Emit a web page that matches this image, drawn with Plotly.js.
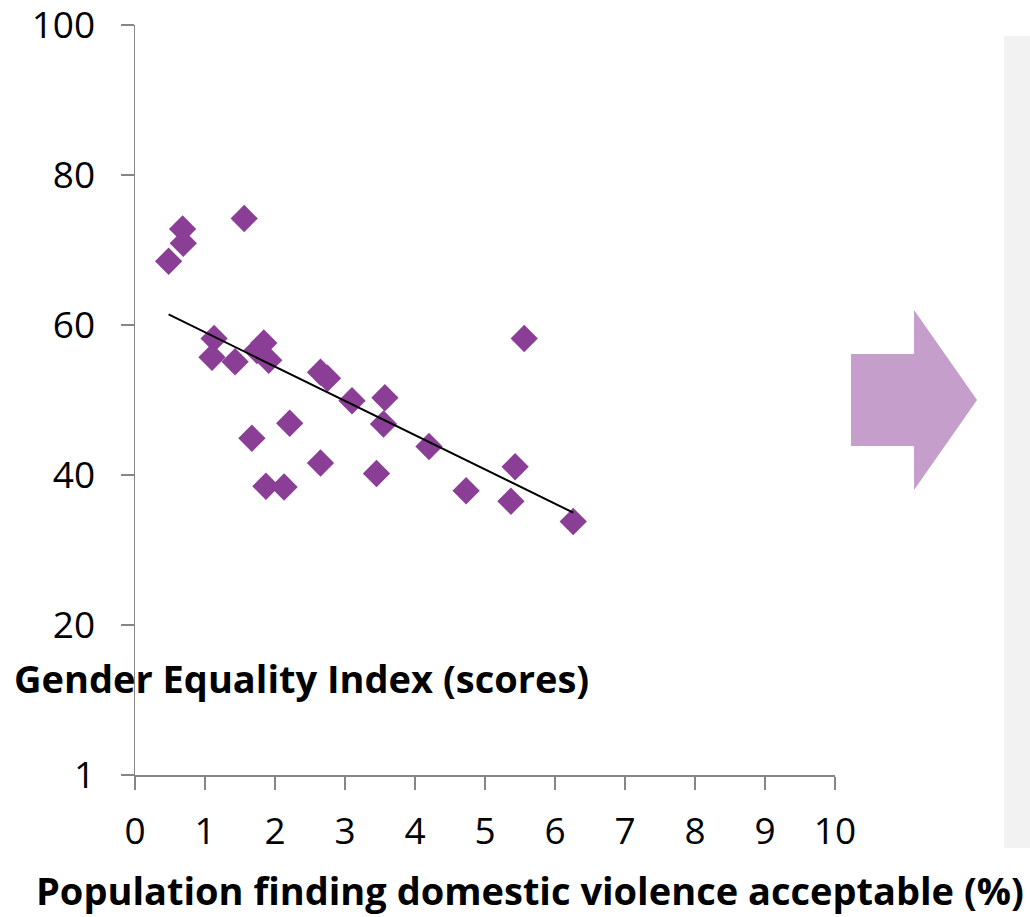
<!DOCTYPE html>
<html>
<head>
<meta charset="utf-8">
<script src="https://cdn.plot.ly/plotly-3.0.1.min.js"></script>
<style>html,body{margin:0;padding:0;background:#fff;}#chart{width:1030px;height:917px;}</style>
</head>
<body>
<div id="chart"></div>
<script>
// Population finding domestic violence acceptable (%)
var violencePct = [0.48, 0.68, 0.69, 1.56, 1.13, 1.10, 1.43, 1.84, 1.74, 1.91, 2.65, 2.75, 3.10, 3.57, 3.55, 4.20, 2.65, 3.45, 4.73, 5.43, 5.37, 6.26, 5.56, 1.67, 2.21, 1.87, 2.13];
// Gender Equality Index (scores)
var equalityScore = [68.5, 72.8, 70.9, 74.2, 58.2, 55.7, 55.1, 57.6, 56.6, 55.3, 53.7, 52.9, 49.9, 50.3, 46.8, 43.8, 41.6, 40.2, 37.9, 41.1, 36.5, 33.8, 58.2, 44.9, 46.9, 38.5, 38.4];
var xTickVals = [0,1,2,3,4,5,6,7,8,9,10];
var yTickVals = [0,20,40,60,80,100];
var yTickText = ['1','20','40','60','80','100'];

// linear (least squares) trend line across the data range
var n = violencePct.length, sx = 0, sy = 0, sxx = 0, sxy = 0;
for (var i = 0; i < n; i++) { sx += violencePct[i]; sy += equalityScore[i]; sxx += violencePct[i]*violencePct[i]; sxy += violencePct[i]*equalityScore[i]; }
var slope = (n*sxy - sx*sy) / (n*sxx - sx*sx);
var intercept = (sy - slope*sx) / n;
var xMin = Math.min.apply(null, violencePct), xMax = Math.max.apply(null, violencePct);
var trendX = [xMin, xMax];
var trendY = trendX.map(function(v){ return intercept + slope*v; });

var purple = '#8B3E96';
var axisGrey = '#868686';
var tickFont = {family: 'Open Sans, sans-serif', size: 37, color: '#000'};
var titleFont = {family: 'Open Sans, sans-serif', size: 38, color: '#000', weight: 'bold'};

var data = [
  {x: violencePct, y: equalityScore, type: 'scatter', mode: 'markers',
   marker: {symbol: 'diamond', size: 21, color: purple}, hoverinfo: 'x+y', cliponaxis: false},
  {x: trendX, y: trendY, type: 'scatter', mode: 'lines',
   line: {color: '#000', width: 2}, hoverinfo: 'skip'}
];

var layout = {
  width: 1030, height: 917,
  margin: {l: 135, r: 195, t: 25, b: 142},
  paper_bgcolor: '#fff', plot_bgcolor: '#fff',
  showlegend: false,
  xaxis: {range: [0, 10], tickvals: xTickVals, ticks: 'outside', ticklen: 13, tickwidth: 1.5,
          tickcolor: axisGrey, showline: true, linecolor: axisGrey, linewidth: 1.5,
          showgrid: false, zeroline: false, tickfont: tickFont, ticklabelstandoff: 10,
          ticklabeloverflow: 'allow', fixedrange: true},
  yaxis: {range: [0, 100], tickvals: yTickVals, ticktext: yTickText, ticks: 'outside', ticklen: 13, tickwidth: 1.5,
          tickcolor: axisGrey, showline: true, linecolor: axisGrey, linewidth: 1.5,
          showgrid: false, zeroline: false, tickfont: tickFont, ticklabelstandoff: 18,
          ticklabeloverflow: 'allow', fixedrange: true},
  shapes: [
    {type: 'rect', xref: 'paper', yref: 'paper', x0: 1.2414, x1: 1.30, y0: -0.0973, y1: 0.9853,
     fillcolor: '#F2F2F2', line: {width: 0}, layer: 'below'},
    {type: 'path', xref: 'paper', yref: 'paper',
     path: 'M 1.0229 0.5613 L 1.1129 0.5613 L 1.1129 0.62 L 1.2029 0.5 L 1.1129 0.38 L 1.1129 0.4387 L 1.0229 0.4387 Z',
     fillcolor: '#C59ECB', line: {width: 0}}
  ],
  annotations: [
    {text: 'Gender Equality Index (scores)', xref: 'paper', yref: 'paper', x: -0.1757, y: 0.1293,
     xanchor: 'left', yanchor: 'middle', showarrow: false, font: titleFont},
    {text: 'Population finding domestic violence acceptable (%)', xref: 'paper', yref: 'paper', x: 0.564, y: -0.153,
     xanchor: 'center', yanchor: 'middle', showarrow: false, font: titleFont}
  ]
};

Plotly.newPlot('chart', data, layout, {displayModeBar: false, staticPlot: true});
</script>
</body>
</html>
